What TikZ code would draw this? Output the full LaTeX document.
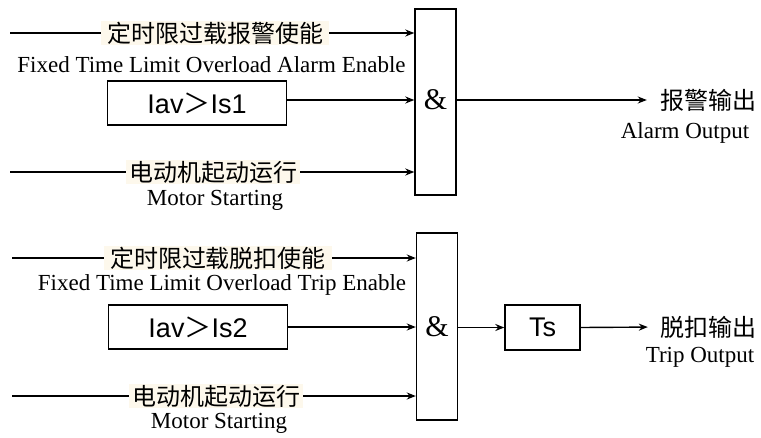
\documentclass[tikz,border=0pt]{standalone}
\usepackage{fontspec}
\setmainfont{Liberation Serif}
\newfontfamily\cjk{Noto Sans CJK SC}
\newfontfamily\arialf{Liberation Sans}
\usetikzlibrary{arrows.meta}
\definecolor{cream}{RGB}{253,248,236}
\begin{document}
\begin{tikzpicture}[x=1pt,y=-1pt,
  wire/.style={line width=1.4pt},
  arr/.style={line width=1.4pt,-{Stealth[length=9pt,width=7pt]}},
  cn/.style={font=\cjk\fontsize{24}{24}\selectfont, fill=cream, inner xsep=6pt, inner ysep=1pt},
  cnout/.style={font=\cjk\fontsize{24}{24}\selectfont, inner sep=0pt},
  en/.style={font=\fontsize{23}{23}\selectfont, inner sep=0pt},
  cmp/.style={draw, line width=1.4pt, minimum width=179pt, minimum height=44pt, font=\arialf\fontsize{27}{27}\selectfont, inner sep=0pt},
  gate/.style={draw, line width=1.4pt, minimum width=41pt, inner sep=0pt},
  ampst/.style={font=\fontsize{30}{30}\selectfont, inner sep=0pt},
]
\useasboundingbox[fill=white] (0,0) rectangle (761,437);

% ---------- top block ----------
\node[gate, minimum height=186pt] (g1) at (435.5,102) {};
\node[ampst] (amp1) at (435.5,100) {\&};

\coordinate (s1) at (10,33);
\node[cn] (a1) at (215,33) {定时限过载报警使能};
\node[en] (e1) at (211.5,65) {Fixed Time Limit Overload Alarm Enable};
\draw[wire] (s1) -- (a1.west);
\draw[arr] (a1.east) -- (a1.east -| g1.west);

\node[cmp] (c1) at (197,103) {Iav{\cjk ＞}Is1};
\draw[arr] (c1.east |- 0,100) -- (g1.west |- 0,100);

\coordinate (s3) at (10,172);
\node[cn, inner xsep=3pt] (m1) at (213,172) {电动机起动运行};
\node[en] (ms1) at (215,200) {Motor Starting};
\draw[wire] (s3) -- (m1.west);
\draw[arr] (m1.east) -- (m1.east -| g1.west);

\node[cnout] (o1) at (708,100) {报警输出};
\node[en] (oe1) at (685,133) {Alarm Output};
\draw[arr, shorten >=13pt] (g1.east |- o1) -- (o1.west);

% ---------- bottom block ----------
\node[gate, minimum height=187pt] (g2) at (437,326.5) {};
\node[ampst] (amp2) at (437,327) {\&};

\coordinate (t1) at (12,258);
\node[cn] (b1) at (218,258) {定时限过载脱扣使能};
\node[en] (f1) at (222,285) {Fixed Time Limit Overload Trip Enable};
\draw[wire] (t1) -- (b1.west);
\draw[arr] (b1.east) -- (b1.east -| g2.west);

\node[cmp] (c2) at (198,327) {Iav{\cjk ＞}Is2};
\draw[arr] (c2.east) -- (c2.east -| g2.west);

\coordinate (t3) at (12,396);
\node[cn, inner xsep=3pt] (m2) at (216,396) {电动机起动运行};
\node[en] (ms2) at (219,423) {Motor Starting};
\draw[wire] (t3) -- (m2.west);
\draw[arr] (m2.east) -- (m2.east -| g2.west);

\node[draw, line width=1.4pt, minimum width=75pt, minimum height=45pt, font=\arialf\fontsize{27}{27}\selectfont, inner sep=0pt] (ts) at (542.5,327.5) {Ts};
\draw[arr] (g2.east |- ts) -- (ts.west);

\node[cnout] (o2) at (708,327) {脱扣输出};
\node[en] (oe2) at (700,357) {Trip Output};
\draw[arr, shorten >=12pt] (ts.east) -- (o2.west);
\end{tikzpicture}
\end{document}
